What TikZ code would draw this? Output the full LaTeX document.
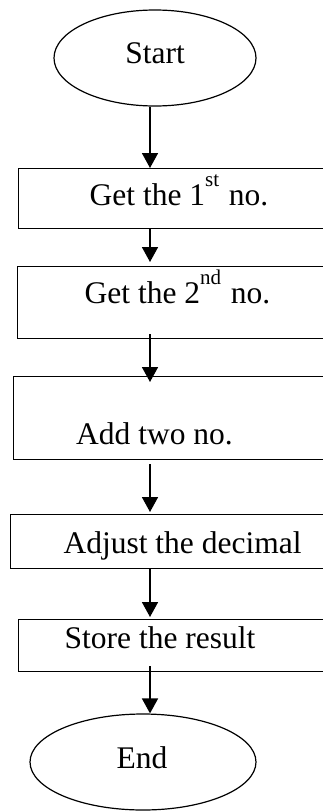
\documentclass[tikz,border=0pt]{standalone}
\usepackage{fontspec}
\setmainfont{Liberation Serif}
\usetikzlibrary{arrows.meta,shapes.geometric}
\newcommand{\ordsup}[1]{\raisebox{19pt}{\fontsize{21}{21}\selectfont #1}\hspace{2pt}}
\begin{document}
\begin{tikzpicture}[x=1pt,y=-1pt,
    flow/.style={line width=1.7pt,-{Triangle[length=15pt,width=16pt]}},
    stepbox/.style={draw,line width=1pt,anchor=north west,inner sep=0pt},
    term/.style={draw,ellipse,line width=1.2pt,inner sep=0pt},
    txt/.style={anchor=base,inner sep=0pt,font=\fontsize{31.5}{36}\selectfont}]
  \useasboundingbox (0,0) rectangle (323,811);
  \clip (0,0) rectangle (323,811);
  \coordinate (axis) at (150,0);
  % terminals and steps
  \node[term,minimum width=202pt,minimum height=96pt] (start) at (155,58) {};
  \node[stepbox,minimum width=340pt,minimum height=60pt] (get1) at (18,168) {};
  \node[stepbox,minimum width=340pt,minimum height=72pt] (get2) at (17,266) {};
  \node[stepbox,minimum width=340pt,minimum height=83pt] (add) at (13,376) {};
  \node[stepbox,minimum width=340pt,minimum height=54pt] (adjust) at (10,514) {};
  \node[stepbox,minimum width=340pt,minimum height=52pt] (store) at (18,619) {};
  \node[term,minimum width=226pt,minimum height=96pt] (end) at (143,762) {};
  % texts
  \node[txt] (tstart) at (155,63) {Start};
  \node[txt] (tget1) at (179,205) {Get the 1\ordsup{st} no.};
  \node[txt] (tget2) at (177.5,303) {Get the 2\ordsup{nd} no.};
  \node[txt] (tadd) at (154.5,444) {Add two no.};
  \node[txt] (tadjust) at (182.5,553) {Adjust the decimal};
  \node[txt] (tstore) at (160,648) {Store the result};
  \node[txt] (tend) at (142,768) {End};
  % arrows
  \draw[flow] (start.south -| axis) -- (get1.north -| axis);
  \draw[flow,shorten >=4pt] (get1.south -| axis) -- (get2.north -| axis);
  \draw[flow,shorten <=-5pt,shorten >=-6pt] (get2.south -| axis) -- (add.north -| axis);
  \draw[flow,shorten <=4pt,shorten >=2pt] (add.south -| axis) -- (adjust.north -| axis);
  \draw[flow,shorten >=2pt] (adjust.south -| axis) -- (store.north -| axis);
  \draw[flow,shorten <=-6pt] (store.south -| axis) -- (end.north -| axis);
\end{tikzpicture}
\end{document}
